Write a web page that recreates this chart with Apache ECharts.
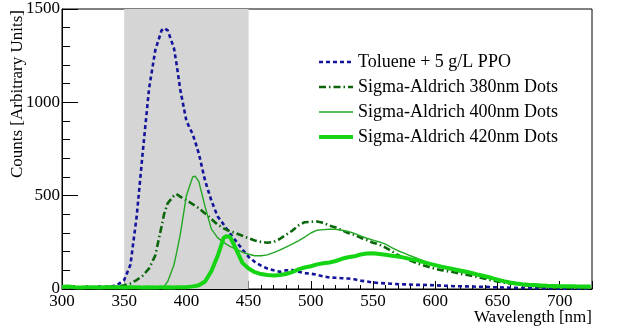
<!DOCTYPE html>
<html>
<head>
<meta charset="utf-8">
<script src="https://cdn.jsdelivr.net/npm/echarts@6/dist/echarts.min.js"></script>
<style>html,body{margin:0;padding:0;background:#fff;}#c{width:623px;height:329px;}</style>
</head>
<body>
<div id="c"></div>
<script>
var wavelengths = [300,305,310,315,320,325,330,335,340,345,350,355,360,365,370,375,380,
  382,385,390,392,395,400,405,407,410,415,420,425,430,432,435,440,445,450,
  455,460,465,470,475,480,485,490,495,500,505,510,515,520,525,530,535,540,545,550,
  555,560,565,570,575,580,585,590,595,600,605,610,615,620,625,630,635,640,645,650,
  655,660,665,670,675,680,685,690,695,700,705,710,715,720,725];

var toluene = [8,10,8,9,10,8,12,10,14,25,48,130,387,740,1075,1280,1385,
  1397,1385,1290,1209,1070,900,830,790,725,580,475,390,345,325,298,255,212,172,
  145,125,110,100,92,100,102,92,85,82,76,68,62,60,58,56,52,45,40,35,
  32,30,28,26,25,24,22,22,21,20,18,17,15,15,14,13,12,12,10,9,
  8,7,6,5,5,4,4,3,3,2,2,2,1,1,1];

var dots380 = [10,12,10,8,10,9,10,12,13,15,20,30,48,72,110,180,335,
  400,460,500,509,495,475,455,445,432,405,375,345,325,318,310,298,285,272,
  260,252,248,252,268,290,312,340,358,360,362,355,340,330,315,300,290,275,262,248,
  238,222,203,182,165,152,139,128,118,108,101,95,90,82,76,70,62,55,47,41,
  35,30,27,22,19,15,12,10,9,8,7,6,5,5,4];

var dots400 = [5,6,5,6,5,5,6,5,5,6,5,5,6,5,6,6,8,
  14,40,130,191,290,500,600,605,575,441,322,275,250,240,228,212,198,186,
  178,178,183,195,208,224,240,258,278,300,315,318,320,320,315,308,298,285,272,262,
  252,240,222,205,192,178,165,152,138,127,116,106,99,91,85,78,71,64,56,50,
  44,38,34,29,24,20,17,14,12,11,10,9,8,8,7];

var dots420 = [12,14,10,8,10,9,8,10,9,10,8,9,10,8,9,8,10,
  8,9,8,9,9,10,14,16,20,40,95,175,275,282,280,212,140,110,
  90,80,75,72,75,80,90,105,115,122,132,138,142,150,162,170,175,185,190,192,
  188,183,178,174,168,160,155,145,136,128,120,113,106,99,93,85,76,68,60,50,
  42,35,30,26,23,21,19,17,16,15,15,15,14,14,14];

var seriesNames = ['Toluene + 5 g/L PPO','Sigma-Aldrich 380nm Dots','Sigma-Aldrich 400nm Dots','Sigma-Aldrich 420nm Dots'];
var colors = ['#14149a','#0b660b','#22a822','#14d414'];
var widths = [2.6, 2.6, 1.4, 4];
var dashes = [[4,3],[7,3,1.5,3],'solid','solid'];

function pairs(v){ return wavelengths.map(function(w,i){ return [w, v[i]]; }); }

var font = 'Liberation Serif, Times New Roman, serif';
var chart = echarts.init(document.getElementById('c'));
chart.setOption({
  animation:false,
  grid:{left:62, top:9, right:31, bottom:40, show:true, borderColor:'#000', borderWidth:1, backgroundColor:'transparent'},
  legend:{
    orient:'vertical', left:312, top:48, itemWidth:34, itemHeight:10, itemGap:7,
    itemStyle:{opacity:0},
    textStyle:{fontFamily:font, fontSize:18, color:'#000', padding:[0,0,0,0]},
    data:seriesNames.map(function(n,i){ return {name:n, lineStyle:{width:widths[i], color:colors[i], type:dashes[i]}}; })
  },
  xAxis:{
    type:'value', min:300, max:726, interval:50,
    axisLine:{lineStyle:{color:'#000', width:1}},
    axisTick:{inside:true, length:8, lineStyle:{color:'#000'}},
    minorTick:{show:true, splitNumber:5, length:4, lineStyle:{color:'#000'}},
    splitLine:{show:false},
    axisLabel:{fontFamily:font, fontSize:17, color:'#000', margin:4, showMaxLabel:false, formatter:function(v){return String(v);}}
  },
  yAxis:{
    type:'value', min:0, max:1500, interval:500,
    axisLine:{show:true, lineStyle:{color:'#000', width:1}},
    axisTick:{show:true, inside:true, length:16, lineStyle:{color:'#000'}},
    minorTick:{show:true, splitNumber:5, length:8, lineStyle:{color:'#000'}},
    splitLine:{show:false},
    axisLabel:{fontFamily:font, fontSize:17, color:'#000', margin:2, formatter:function(v){return String(v);}}
  },
  graphic:[
    {type:'text', x:18, y:10, rotation:Math.PI/2, style:{text:'Counts [Arbitrary Units]', font:'17px '+font, fill:'#000', textAlign:'right', textVerticalAlign:'middle'}},
    {type:'text', x:592, y:318, style:{text:'Wavelength [nm]', font:'17px '+font, fill:'#000', textAlign:'right', textVerticalAlign:'middle'}}
  ],
  series:[
    {name:seriesNames[0], type:'line', showSymbol:false, symbol:'none', data:pairs(toluene),
     lineStyle:{color:colors[0], width:widths[0], type:dashes[0]}, itemStyle:{color:colors[0]},
     markArea:{silent:true, itemStyle:{color:'#d5d5d5'}, data:[[{xAxis:350},{xAxis:450}]]}, z:3},
    {name:seriesNames[1], type:'line', showSymbol:false, symbol:'none', data:pairs(dots380),
     lineStyle:{color:colors[1], width:widths[1], type:dashes[1]}, itemStyle:{color:colors[1]}, z:4},
    {name:seriesNames[2], type:'line', showSymbol:false, symbol:'none', data:pairs(dots400),
     lineStyle:{color:colors[2], width:widths[2]}, itemStyle:{color:colors[2]}, z:5},
    {name:seriesNames[3], type:'line', showSymbol:false, symbol:'none', data:pairs(dots420),
     lineStyle:{color:colors[3], width:widths[3]}, itemStyle:{color:colors[3]}, z:6}
  ]
});
</script>
</body>
</html>
